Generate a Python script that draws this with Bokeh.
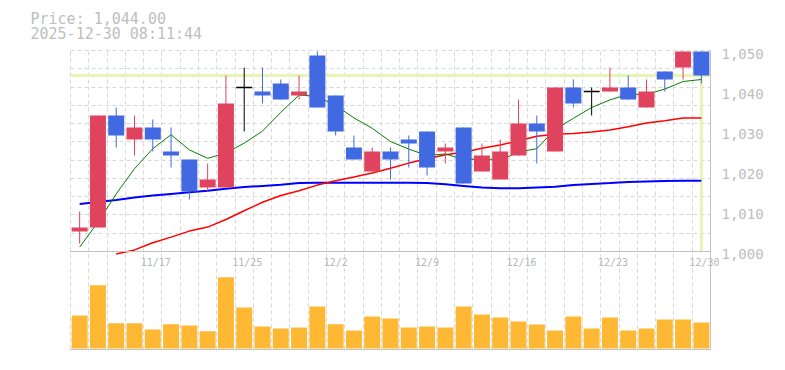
import numpy as np
from bokeh.plotting import figure
from bokeh.models import Range1d, FixedTicker, ColumnDataSource
from bokeh.embed import file_html
from bokeh.resources import INLINE
from bokeh.core.properties import value

# ---------------- data ----------------
dates = ["11/11", "11/12", "11/13", "11/14", "11/17", "11/18", "11/19", "11/20", "11/21",
         "11/25", "11/26", "11/27", "11/28", "12/1", "12/2", "12/3", "12/4", "12/5", "12/8",
         "12/9", "12/10", "12/11", "12/12", "12/15", "12/16", "12/17", "12/18", "12/19",
         "12/22", "12/23", "12/24", "12/25", "12/26", "12/29", "12/30"]
tick_labels = ["11/17", "11/25", "12/2", "12/9", "12/16", "12/23", "12/30"]
timestamp = "2025-12-30 08:11:44"

opens = [1005, 1006, 1034, 1028, 1031, 1025, 1023, 1016, 1016, 1041, 1040, 1042, 1039, 1049,
         1039, 1026, 1020, 1025, 1028, 1030, 1025, 1031, 1020, 1018, 1024, 1032, 1025, 1041,
         1040, 1040, 1041, 1036, 1045, 1046, 1050]
highs = [1010, 1034, 1036, 1034, 1033, 1031, 1023, 1022, 1044, 1046, 1046, 1043, 1044, 1050,
         1039, 1029, 1026, 1026, 1029, 1030, 1027, 1031, 1027, 1028, 1038, 1034, 1041, 1043,
         1041, 1046, 1044, 1043, 1045, 1050, 1050]
lows = [1002, 1006, 1026, 1024, 1025, 1021, 1013, 1015, 1016, 1030, 1037, 1038, 1038, 1036,
        1029, 1023, 1020, 1018, 1021, 1019, 1022, 1017, 1020, 1018, 1024, 1022, 1025, 1036,
        1034, 1040, 1038, 1036, 1040, 1043, 1042]
closes = [1006, 1034, 1029, 1031, 1028, 1024, 1015, 1018, 1037, 1041, 1039, 1038, 1040, 1036,
          1030, 1023, 1025, 1023, 1027, 1021, 1026, 1017, 1024, 1025, 1032, 1030, 1041, 1037,
          1040, 1041, 1038, 1040, 1043, 1050, 1044]
ma_short = [1001.1, 1007.3, 1014.4, 1020.7, 1025.7, 1029.2, 1025.4, 1023.3, 1024.6, 1027.1,
            1030.1, 1034.8, 1039.1, 1038.8, 1036.5, 1033.4, 1030.8, 1027.5, 1025.6, 1024.0,
            1024.4, 1023.0, 1023.1, 1022.8, 1024.9, 1025.7, 1030.5, 1033.3, 1036.0, 1037.9,
            1039.3, 1039.3, 1040.6, 1042.5, 1043.0]
ma_mid = [np.nan, np.nan, 999.4, 1000.4, 1002.2, 1003.6, 1005.1, 1006.1, 1008.0, 1010.2,
          1012.3, 1014.0, 1015.2, 1016.6, 1017.7, 1018.6, 1019.6, 1020.8, 1022.1, 1023.2,
          1024.2, 1024.8, 1025.8, 1026.6, 1027.7, 1028.8, 1029.3, 1029.5, 1029.9, 1030.4,
          1031.2, 1032.1, 1032.7, 1033.4, 1033.4]
ma_long = [1011.9, 1012.4, 1012.9, 1013.5, 1014.0, 1014.4, 1014.8, 1015.2, 1015.7, 1016.1,
           1016.4, 1016.7, 1017.1, 1017.2, 1017.2, 1017.2, 1017.2, 1017.2, 1017.2, 1017.1,
           1016.8, 1016.4, 1016.0, 1015.8, 1015.8, 1016.0, 1016.2, 1016.6, 1016.9, 1017.1,
           1017.4, 1017.5, 1017.6, 1017.7, 1017.7]
volumes = [33000, 63300, 25300, 25300, 19000, 24300, 23000, 17300, 71300, 41000, 22000, 20000,
           21000, 42000, 24300, 18000, 32000, 30000, 21000, 22000, 21000, 42000, 34000, 31000,
           27000, 24000, 18000, 32000, 20000, 31000, 18000, 20000, 29000, 29000, 26000]
price_ticks = [1000, 1010, 1020, 1030, 1040, 1050]

# ---------------- styles / layout ----------------
FONT = "DejaVu Sans Mono"
UP = "#e0435e"
DOWN = "#4169e1"
DOJI = "#000000"
VOL = "#ffb833"
GRID = "#d8d8d8"
AXIS = "#c2c2c2"
TXT = "#bebebe"
DATE_TXT = "#b8b8b8"
HL = "#e6f5b3"
BODY_W = 0.875

W, H = 775, 354                      # canvas size (px)
PLOT_L, PLOT_R = 70, 710             # chart area left / right (px)
PRICE_TOP, PRICE_BOT = 50, 251       # price panel top / bottom (px)
VOL_BOT = 349                        # volume panel bottom line (px)
PRICE_LO, PRICE_HI = 1000, 1050.25   # price shown in the price panel
VOL_PER_PX = 1000

n = len(dates)
x = np.arange(n)
o = np.array(opens, float)
c = np.array(closes, float)
is_doji = o == c
colors = np.where(c > o, UP, np.where(c < o, DOWN, DOJI))

# scales: one frame covering the whole canvas, panels placed by pixel layout
ppu_x = (PLOT_R - PLOT_L) / n
x_start = -0.5 - PLOT_L / ppu_x
x_end = x_start + W / ppu_x
ppu_y = (PRICE_BOT - PRICE_TOP) / (PRICE_HI - PRICE_LO)
y_start = PRICE_LO - (H - PRICE_BOT) / ppu_y
y_end = PRICE_HI + PRICE_TOP / ppu_y
price_at_vol_bot = PRICE_LO - (VOL_BOT - PRICE_BOT) / ppu_y
vol_start = -(H - (VOL_BOT - 1)) * VOL_PER_PX
vol_end = (VOL_BOT - 1) * VOL_PER_PX
left_edge, right_edge = -0.5, n - 0.5

p = figure(width=W, height=H, x_range=Range1d(x_start, x_end), y_range=Range1d(y_start, y_end),
           output_backend="svg", toolbar_location=None, x_axis_location=None,
           y_axis_location=None, min_border=0, min_border_left=0, min_border_right=0,
           min_border_top=0, min_border_bottom=0)
p.extra_y_ranges = {"vol": Range1d(vol_start, vol_end)}
p.outline_line_color = None
p.background_fill_color = "white"
p.border_fill_color = "white"

boundaries = list(np.arange(n + 1) - 0.5)
p.xgrid.ticker = FixedTicker(ticks=boundaries)
p.xgrid.cross_bounds = (price_at_vol_bot, PRICE_HI)
p.ygrid.ticker = FixedTicker(ticks=list(np.linspace(PRICE_LO, PRICE_HI, 12)))
p.ygrid.cross_bounds = (left_edge, right_edge)
for g in (p.xgrid, p.ygrid):
    g.grid_line_color = GRID
    g.grid_line_dash = "4 3"
    g.grid_line_width = 1

# volume bars
p.vbar(x=x, width=BODY_W, top=volumes, bottom=0, fill_color=VOL, line_color=None,
       y_range_name="vol")

# current price highlight
p.segment(x0=[left_edge], y0=[closes[-1]], x1=[right_edge], y1=[closes[-1]],
          line_color=HL, line_width=3)
p.segment(x0=[x[-1]], y0=[closes[-1]], x1=[x[-1]], y1=[PRICE_LO],
          line_color=HL, line_width=3)

# moving averages
p.line(x, ma_long, line_color="#0000ff", line_width=2)
p.line(x, ma_mid, line_color="#ff0000", line_width=1.5)
p.line(x, ma_short, line_color="#008000", line_width=1)

# candles
src_all = ColumnDataSource(dict(x=x, h=highs, l=lows, color=colors))
nd = ~is_doji
src_body = ColumnDataSource(dict(x=x[nd], top=np.maximum(o, c)[nd], bottom=np.minimum(o, c)[nd],
                                 color=colors[nd]))
src_doji = ColumnDataSource(dict(x0=x[is_doji] - BODY_W / 2, x1=x[is_doji] + BODY_W / 2,
                                 y=c[is_doji]))
p.segment(x0="x", y0="h", x1="x", y1="l", line_color="color", line_width=1, source=src_all)
p.vbar(x="x", width=BODY_W, top="top", bottom="bottom", fill_color="color", line_color=None,
       source=src_body)
p.segment(x0="x0", y0="y", x1="x1", y1="y", line_color=DOJI, line_width=1.5, source=src_doji)

# panel border lines: separator, bottom, right
p.segment(x0=[left_edge, left_edge, right_edge], x1=[right_edge, right_edge, right_edge],
          y0=[PRICE_LO, price_at_vol_bot, price_at_vol_bot],
          y1=[PRICE_LO, price_at_vol_bot, PRICE_HI], line_color=AXIS, line_width=1)

# price axis labels
p.text(x=[right_edge] * len(price_ticks), y=price_ticks, text=[f"{t:,}" for t in price_ticks],
       text_font=value(FONT), text_font_size="14px", text_color=TXT,
       text_align="left", text_baseline="middle", x_offset=11, y_offset=2)

# date labels
label_x = [dates.index(t) for t in tick_labels]
p.text(x=label_x, y=[PRICE_LO] * len(label_x), text=tick_labels,
       text_font=value(FONT), text_font_size="10px", text_color=DATE_TXT,
       text_align="left", text_baseline="middle", x_offset=-12, y_offset=11)

# header
p.text(x=[x_start, x_start], y=[y_end, y_end],
       text=[f"Price: {closes[-1]:,.2f}", timestamp],
       text_font=value(FONT), text_font_size="15px", text_color=TXT,
       text_align="left", text_baseline="middle", x_offset=30, y_offset=[18, 33])

open("out.html", "w").write(file_html(p, INLINE))
